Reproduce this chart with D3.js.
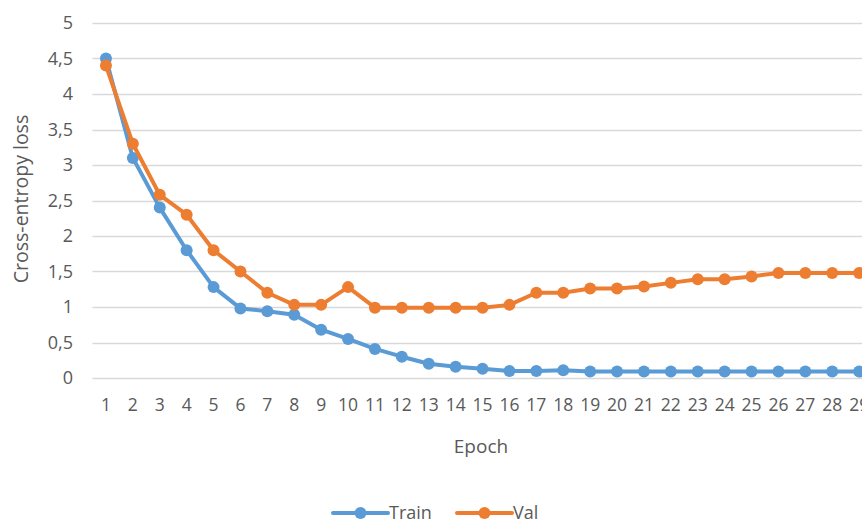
<!DOCTYPE html>
<html>
<head>
<meta charset="utf-8">
<script src="https://cdn.jsdelivr.net/npm/d3@7"></script>
<style>
  body { margin: 0; background: #fff; overflow: hidden; }
  svg text { font-family: "Open Sans", "Noto Sans", sans-serif; fill: #595959; }
</style>
</head>
<body>
<div id="chart"></div>
<script>
// chart data
const epochs = d3.range(1, 30);
const trainLoss = [4.5, 3.1, 2.4, 1.8, 1.28, 0.98, 0.94, 0.89, 0.68, 0.55, 0.41, 0.3, 0.2, 0.16, 0.13, 0.1, 0.1, 0.11,
  0.09, 0.09, 0.09, 0.09, 0.09, 0.09, 0.09, 0.09, 0.09, 0.09, 0.09];
const valLoss = [4.4, 3.3, 2.58, 2.3, 1.8, 1.5, 1.2, 1.03, 1.03, 1.28, 0.99, 0.99, 0.99, 0.99, 0.99, 1.03, 1.2, 1.2,
  1.26, 1.26, 1.29, 1.34, 1.39, 1.39, 1.43, 1.48, 1.48, 1.48, 1.48];
const yTicks = [0, 0.5, 1, 1.5, 2, 2.5, 3, 3.5, 4, 4.5, 5];
const seriesNames = ['Train', 'Val'];
const colors = ['#5B9BD5', '#ED7D31'];

const W = 862, H = 525;
const svg = d3.select('#chart').append('svg')
  .attr('width', W)
  .attr('height', H);

// band scale runs past the right edge, the original is cropped
const x = d3.scaleBand().domain(epochs).range([92.5, 92.5 + 26.9 * epochs.length]);
const y = d3.scaleLinear().domain([0, 5]).range([378, 23]);

// gridlines
svg.append('g')
  .selectAll('line')
  .data(yTicks)
  .join('line')
  .attr('x1', 92.5)
  .attr('x2', W)
  .attr('y1', d => Math.round(y(d)) + 0.5)
  .attr('y2', d => Math.round(y(d)) + 0.5)
  .attr('stroke', '#D9D9D9')
  .attr('stroke-width', 1.3);

// y tick labels
const fmt = d => String(d).replace('.', ',');
svg.append('g')
  .selectAll('text')
  .data(yTicks)
  .join('text')
  .attr('x', 73)
  .attr('y', d => y(d))
  .attr('dy', '0.35em')
  .attr('text-anchor', 'end')
  .style('font-size', '18px')
  .text(fmt);

// x tick labels
svg.append('g')
  .selectAll('text')
  .data(epochs)
  .join('text')
  .attr('x', d => x(d) + x.bandwidth() / 2)
  .attr('y', 405)
  .attr('dy', '0.35em')
  .attr('text-anchor', 'middle')
  .style('font-size', '17.5px')
  .text(d => d);

// axis titles
svg.append('text')
  .attr('x', 481)
  .attr('y', 446)
  .attr('dy', '0.35em')
  .attr('text-anchor', 'middle')
  .style('font-size', '19px')
  .text('Epoch');

svg.append('text')
  .attr('transform', 'translate(21,199) rotate(-90)')
  .attr('dy', '0.35em')
  .attr('text-anchor', 'middle')
  .style('font-size', '19.5px')
  .text('Cross-entropy loss');

// lines + markers
const line = d3.line()
  .x((d, i) => x(epochs[i]) + x.bandwidth() / 2)
  .y(d => y(d));

[trainLoss, valLoss].forEach((vals, s) => {
  const g = svg.append('g');
  g.append('path')
    .datum(vals)
    .attr('fill', 'none')
    .attr('stroke', colors[s])
    .attr('stroke-width', 4)
    .attr('stroke-linejoin', 'round')
    .attr('d', line);
  g.selectAll('circle')
    .data(vals)
    .join('circle')
    .attr('cx', (d, i) => x(epochs[i]) + x.bandwidth() / 2)
    .attr('cy', d => y(d))
    .attr('r', 6)
    .attr('fill', colors[s]);
});

// legend
const legendX = [333, 457];
seriesNames.forEach((name, s) => {
  const g = svg.append('g').attr('transform', `translate(${legendX[s]},513)`);
  g.append('line')
    .attr('x1', 0).attr('x2', 55)
    .attr('stroke', colors[s])
    .attr('stroke-width', 4)
    .attr('stroke-linecap', 'round');
  g.append('circle').attr('cx', 27.5).attr('r', 6).attr('fill', colors[s]);
  g.append('text')
    .attr('x', 56)
    .attr('dy', '0.35em')
    .style('font-size', '18px')
    .text(name);
});
</script>
</body>
</html>
